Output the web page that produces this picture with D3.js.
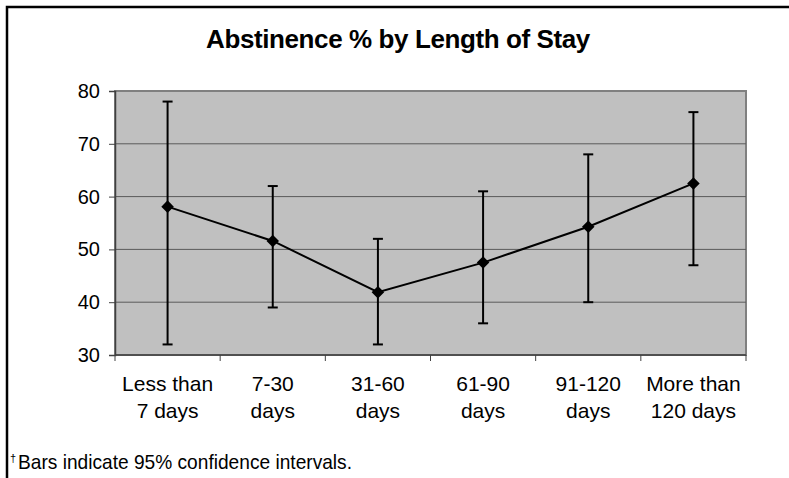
<!DOCTYPE html>
<html>
<head>
<meta charset="utf-8">
<script src="https://cdn.jsdelivr.net/npm/d3@7"></script>
<style>
  body { margin: 0; background: #fff; }
  svg { display: block; }
</style>
</head>
<body>
<svg id="chart" width="789" height="478"></svg>
<script>
// data
const categories = [["Less than", "7 days"], ["7-30", "days"], ["31-60", "days"],
                    ["61-90", "days"], ["91-120", "days"], ["More than", "120 days"]];
const means = [58.1, 51.6, 41.9, 47.5, 54.3, 62.5];
const upper = [78, 62, 52, 61, 68, 76];
const lower = [32, 39, 32, 36, 40, 47];
const yTicks = [30, 40, 50, 60, 70, 80];

const width = 789, height = 478;
const margin = { top: 91, right: 43, bottom: 123, left: 115 };
const svg = d3.select("#chart");
const font = "Liberation Sans, Arial, sans-serif";

// outer frame (only top and left edges fall inside the picture)
svg.append("rect")
  .attr("x", 7).attr("y", 7)
  .attr("width", 800).attr("height", 500)
  .attr("fill", "none").attr("stroke", "#000").attr("stroke-width", 2.5);

svg.append("text")
  .attr("x", 398).attr("y", 48)
  .attr("text-anchor", "middle")
  .style("font-family", font)
  .style("font-weight", "bold")
  .style("font-size", "26px")
  .style("letter-spacing", "-0.4px")
  .text("Abstinence % by Length of Stay");

const x = d3.scaleBand()
  .domain(d3.range(categories.length))
  .range([margin.left, width - margin.right]);
const y = d3.scaleLinear()
  .domain([30, 80])
  .range([height - margin.bottom, margin.top]);

const plot = svg.append("g");

// grey plot area
plot.append("rect")
  .attr("x", x.range()[0]).attr("y", y(80))
  .attr("width", x.range()[1] - x.range()[0])
  .attr("height", y(30) - y(80))
  .attr("fill", "#c0c0c0")
  .attr("stroke", "#808080").attr("stroke-width", 2);

// gridlines
plot.append("g")
  .selectAll("line")
  .data(yTicks.filter(d => d > 30 && d < 80))
  .enter().append("line")
  .attr("x1", x.range()[0]).attr("x2", x.range()[1])
  .attr("y1", d => y(d)).attr("y2", d => y(d))
  .attr("stroke", "#5a5a5a").attr("stroke-width", 1);

// y axis
const yAxis = svg.append("g")
  .attr("transform", `translate(${margin.left},0)`)
  .call(d3.axisLeft(y).tickValues(yTicks).tickSize(6).tickPadding(9));
yAxis.select(".domain").attr("stroke", "#404040").attr("stroke-width", 1.5);
yAxis.selectAll(".tick line").attr("stroke", "#404040");
yAxis.selectAll("text")
  .attr("fill", "#000")
  .style("font-family", font)
  .style("font-size", "20px");

// x axis: ticks sit between categories
const xBase = y(30);
const xAxis = svg.append("g");
xAxis.append("line")
  .attr("x1", x.range()[0]).attr("x2", x.range()[1])
  .attr("y1", xBase).attr("y2", xBase)
  .attr("stroke", "#404040").attr("stroke-width", 1.5);
xAxis.selectAll(".sep")
  .data(d3.range(categories.length + 1))
  .enter().append("line")
  .attr("class", "sep")
  .attr("x1", i => x.range()[0] + i * x.step())
  .attr("x2", i => x.range()[0] + i * x.step())
  .attr("y1", xBase).attr("y2", xBase + 6)
  .attr("stroke", "#404040");

const labels = xAxis.selectAll(".cat")
  .data(categories)
  .enter().append("text")
  .attr("class", "cat")
  .attr("text-anchor", "middle")
  .style("font-family", font)
  .style("font-size", "21px");
labels.each(function (d, i) {
  const t = d3.select(this);
  d.forEach((line, j) => {
    t.append("tspan")
      .attr("x", x(i) + x.bandwidth() / 2)
      .attr("y", 391 + j * 27)
      .text(line);
  });
});

// error bars
const cx = i => x(i) + x.bandwidth() / 2;
const bars = plot.append("g")
  .selectAll("g")
  .data(means.map((m, i) => ({ i, m, lo: lower[i], hi: upper[i] })))
  .enter().append("g")
  .attr("stroke", "#000").attr("stroke-width", 2);
bars.append("line")
  .attr("x1", d => cx(d.i)).attr("x2", d => cx(d.i))
  .attr("y1", d => y(d.lo)).attr("y2", d => y(d.hi));
bars.append("line")
  .attr("x1", d => cx(d.i) - 5).attr("x2", d => cx(d.i) + 5)
  .attr("y1", d => y(d.hi)).attr("y2", d => y(d.hi));
bars.append("line")
  .attr("x1", d => cx(d.i) - 5).attr("x2", d => cx(d.i) + 5)
  .attr("y1", d => y(d.lo)).attr("y2", d => y(d.lo));

// mean line
const line = d3.line()
  .x((d, i) => cx(i))
  .y(d => y(d));
plot.append("path")
  .datum(means)
  .attr("d", line)
  .attr("fill", "none")
  .attr("stroke", "#000")
  .attr("stroke-width", 2);

// diamond markers
plot.append("g")
  .selectAll("path")
  .data(means)
  .enter().append("path")
  .attr("d", d3.symbol().type(d3.symbolDiamond2).size(100))
  .attr("transform", (d, i) => `translate(${cx(i)},${y(d)})`)
  .attr("fill", "#000");

// footnote (condensed face in the original, squeezed with textLength)
svg.append("text")
  .attr("x", 10).attr("y", 462)
  .style("font-family", font)
  .style("font-size", "11px")
  .text("†");
svg.append("text")
  .attr("x", 18).attr("y", 469)
  .attr("textLength", 334)
  .attr("lengthAdjust", "spacingAndGlyphs")
  .style("font-family", font)
  .style("font-size", "21px")
  .text("Bars indicate 95% confidence intervals.");
</script>
</body>
</html>
